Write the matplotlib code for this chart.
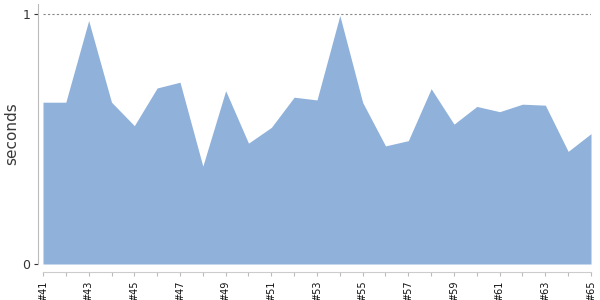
import matplotlib
matplotlib.use("Agg")
import matplotlib.pyplot as plt
from matplotlib.ticker import FixedLocator

builds = list(range(41, 66))
seconds = [0.648, 0.648, 0.975, 0.648, 0.554, 0.705, 0.728, 0.392, 0.694, 0.484,
           0.547, 0.668, 0.657, 0.995, 0.647, 0.473, 0.494, 0.702, 0.560, 0.631,
           0.610, 0.640, 0.636, 0.451, 0.522]
labels = ["#%d" % b for b in builds]

fig = plt.figure(figsize=(6, 3), dpi=100)
ax = fig.add_axes([43/600, 1 - 264/300, (591-43)/600, (264-4)/300])

ax.fill_between(builds, seconds, 0, color="#8fb1da", linewidth=0)
ax.axhline(1, color="#888888", linewidth=0.8, dashes=(2, 2))

ax.set_xlim(41, 65)
ax.set_ylim(0, 1 + 10.3/249.7)

for s in ["top", "right"]:
    ax.spines[s].set_visible(False)
ax.spines["left"].set_position(("outward", 3.3))
ax.spines["left"].set_color("#bbbbbb")
ax.spines["bottom"].set_position(("outward", 6))
ax.spines["bottom"].set_color("#cccccc")

ax.set_yticks([0, 1])
ax.set_yticklabels(["0", "1"])
ax.tick_params(axis="y", length=3, width=0.8, color="#333333", labelsize=9,
               labelcolor="#333333", pad=3)

ax.xaxis.set_major_locator(FixedLocator(builds[::2]))
ax.xaxis.set_minor_locator(FixedLocator(builds))
ax.set_xticklabels(labels[::2], rotation=90)
ax.tick_params(axis="x", which="both", length=3, width=0.8, color="#bbbbbb",
               labelsize=7, labelcolor="#111111", pad=3)

ax.set_ylabel("seconds", fontsize=11, color="#3a3a3a")
ax.yaxis.set_label_coords(-24/548, 0.5)

fig.savefig("out.png", dpi=100)
